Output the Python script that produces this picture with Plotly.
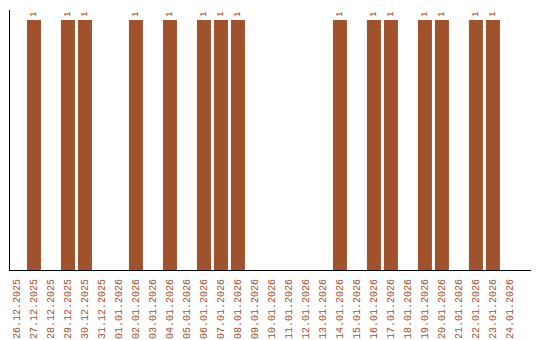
import plotly.graph_objects as go

dates = ["26.12.2025", "27.12.2025", "28.12.2025", "29.12.2025", "30.12.2025", "31.12.2025",
         "01.01.2026", "02.01.2026", "03.01.2026", "04.01.2026", "05.01.2026", "06.01.2026",
         "07.01.2026", "08.01.2026", "09.01.2026", "10.01.2026", "11.01.2026", "12.01.2026",
         "13.01.2026", "14.01.2026", "15.01.2026", "16.01.2026", "17.01.2026", "18.01.2026",
         "19.01.2026", "20.01.2026", "21.01.2026", "22.01.2026", "23.01.2026", "24.01.2026"]
counts = [0, 1, 0, 1, 1, 0,
          0, 1, 0, 1, 0, 1,
          1, 1, 0, 0, 0, 0,
          0, 1, 0, 1, 1, 0,
          1, 1, 0, 1, 1, 0]

color = "#A0522D"
labels = [str(v) if v else "" for v in counts]

fig = go.Figure(go.Bar(
    x=dates, y=counts, marker_color=color, marker_line_width=0,
    text=labels, textposition="outside", textangle=-90, cliponaxis=False,
    textfont=dict(family="Liberation Mono", size=9, color=color),
))
fig.update_layout(
    width=540, height=340, margin=dict(l=10, r=9, t=10, b=70),
    plot_bgcolor="white", paper_bgcolor="white", bargap=0.176, showlegend=False,
    font=dict(family="Liberation Mono"),
)
fig.update_xaxes(type="category", range=[-0.41, 30.24], tickangle=-90, showline=True,
                 linecolor="black", linewidth=1,
                 showgrid=False, ticks="", automargin=False, ticklabelstandoff=4,
                 tickfont=dict(family="Liberation Mono", size=10, color=color))
fig.update_yaxes(range=[0, 1.04], showline=True, linecolor="black", linewidth=1, showgrid=False,
                 showticklabels=False, ticks="", zeroline=False, automargin=False)
fig.write_html("out.html")
